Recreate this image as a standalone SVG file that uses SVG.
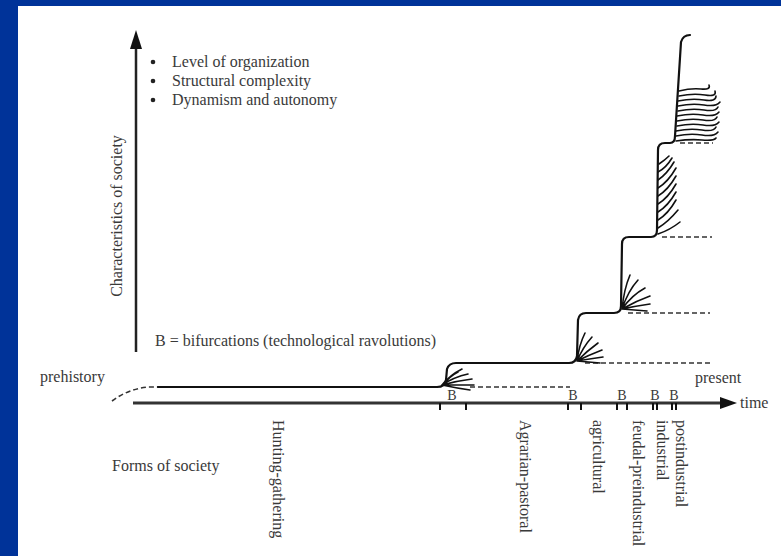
<svg xmlns="http://www.w3.org/2000/svg" width="781" height="556" viewBox="0 0 781 556">
<style>
text{font-family:"Liberation Serif","Times New Roman",serif;font-size:16px;fill:#3a3a3a}
.b{font-size:14px}
.traj{fill:none;stroke:#111;stroke-width:2.2;stroke-linecap:round;stroke-linejoin:round}
.br{fill:none;stroke:#111;stroke-width:1.6;stroke-linecap:round}
.dash{fill:none;stroke:#333;stroke-width:1.6;stroke-dasharray:5 3}
.tick{stroke:#111;stroke-width:2}
</style>
<rect x="0" y="0" width="781" height="556" fill="#003399"/>
<rect x="18" y="6" width="763" height="550" fill="#ffffff"/>
<g id="axes">
<line x1="136" y1="352" x2="136" y2="46" stroke="#222" stroke-width="2.5"/>
<polygon points="130,49 136,30 142,49" fill="#111"/>
<line x1="133" y1="403" x2="724" y2="403" stroke="#333" stroke-width="3"/>
<polygon points="720,397 737,403 720,409" fill="#111"/>
<g id="ticks">
<line class="tick" x1="440" y1="403" x2="440" y2="410"/>
<line class="tick" x1="466" y1="403" x2="466" y2="410"/>
<line class="tick" x1="568" y1="403" x2="568" y2="410"/>
<line class="tick" x1="581" y1="403" x2="581" y2="410"/>
<line class="tick" x1="617" y1="403" x2="617" y2="410"/>
<line class="tick" x1="627" y1="403" x2="627" y2="410"/>
<line class="tick" x1="653" y1="403" x2="653" y2="410"/>
<line class="tick" x1="657" y1="403" x2="657" y2="410"/>
<line class="tick" x1="672" y1="403" x2="672" y2="410"/>
<line class="tick" x1="676" y1="403" x2="676" y2="410"/>
</g>
</g>
<g id="legend">
<circle cx="153" cy="62" r="2.3" fill="#222"/>
<circle cx="153" cy="81" r="2.3" fill="#222"/>
<circle cx="153" cy="100" r="2.3" fill="#222"/>
<text x="172" y="67">Level of organization</text>
<text x="172" y="86">Structural complexity</text>
<text x="172" y="105">Dynamism and autonomy</text>
</g>
<g id="labels">
<text transform="translate(122,216) rotate(-90)" text-anchor="middle">Characteristics of society</text>
<text x="155" y="346">B = bifurcations (technological ravolutions)</text>
<text x="40" y="382">prehistory</text>
<text x="695" y="383">present</text>
<text x="740" y="408">time</text>
<text x="112" y="471">Forms of society</text>
<text class="b" x="452" y="400" text-anchor="middle">B</text>
<text class="b" x="573" y="400" text-anchor="middle">B</text>
<text class="b" x="622" y="400" text-anchor="middle">B</text>
<text class="b" x="655" y="400" text-anchor="middle">B</text>
<text class="b" x="674" y="400" text-anchor="middle">B</text>
<text transform="translate(273,420) rotate(90)">Hunting-gathering</text>
<text transform="translate(520,420) rotate(90)">Agrarian-pastoral</text>
<text transform="translate(593,420) rotate(90)">agricultural</text>
<text transform="translate(633,420) rotate(90)">feudal-preindustrial</text>
<text transform="translate(657,420) rotate(90)">industrial</text>
<text transform="translate(676,420) rotate(90)">postindustrial</text>
</g>
<g id="connectors">
<path class="dash" d="M112 401 Q128 389 148 387 L158 387"/>
<path class="traj" d="M158 387 L437 387 Q445 387 446 380 L447 369 Q449 363 456 363 L569 363 Q576 363 577 356 L578 320 Q579 313 586 313 L614 313 Q621 313 621 306 L622 244 Q622 237 629 237 L651 237 Q657 237 657 230 L658 150 Q658 143 665 143 L670 143 Q675 143 675 136 L681 42 Q683 35 690 35"/>
<path class="dash" d="M470 387 L570 387"/>
<path class="dash" d="M585 363 L712 363"/>
<path class="dash" d="M628 313 L710 313"/>
<path class="dash" d="M662 237 L712 237"/>
<path class="dash" d="M680 143 L713 143"/>
</g>
<g id="branches">
<path class="br" d="M442 385 q8 -10 20 -16 M442 385 q12 -8 26 -11 M442 385 q14 -4 30 -6 M442 385 q16 0 32 0 M442 385 q14 3 28 5 M444 384 q6 -8 14 -12"/>
<path class="br" d="M577 361 q2 -16 8 -28 M577 361 q6 -14 15 -24 M577 361 q10 -10 21 -18 M577 361 q12 -6 25 -11 M577 361 q12 -2 26 -4 M577 361 q12 1 23 2"/>
<path class="br" d="M622 309 q2 -20 8 -34 M622 309 q6 -18 16 -29 M622 309 q10 -14 23 -21 M622 309 q14 -8 28 -13 M622 309 q14 -3 28 -5 M622 309 q12 1 25 2"/>
<path class="br" d="M658 234 q12 -4 22 -12 M658 228 q10 -6 20 -18 M658 220 q10 -6 18 -20 M658 212 q10 -6 18 -20 M658 204 q10 -6 18 -20 M658 196 q10 -6 18 -20 M658 188 q10 -6 18 -20 M658 180 q9 -6 16 -18 M658 172 q8 -4 14 -14 M659 164 q6 -4 10 -8"/>
<path class="br" d="M676 141 q14 -2 26 -1 t14 -2 M676 136 q14 -3 26 -1 t16 -3 M676 131 q14 -3 26 -1 t14 -3 M677 126 q14 -3 26 -1 t16 -3 M677 121 q14 -3 26 -1 t14 -3 M677 116 q14 -3 26 -1 t16 -3 M678 111 q14 -3 26 -1 t14 -3 M678 106 q14 -3 26 -1 t16 -3 M678 101 q14 -3 26 -1 t12 -4 M679 96 q14 -3 26 -1 t10 -4 M679 91 q12 -3 22 -2 t8 -4"/>
</g>
</svg>
